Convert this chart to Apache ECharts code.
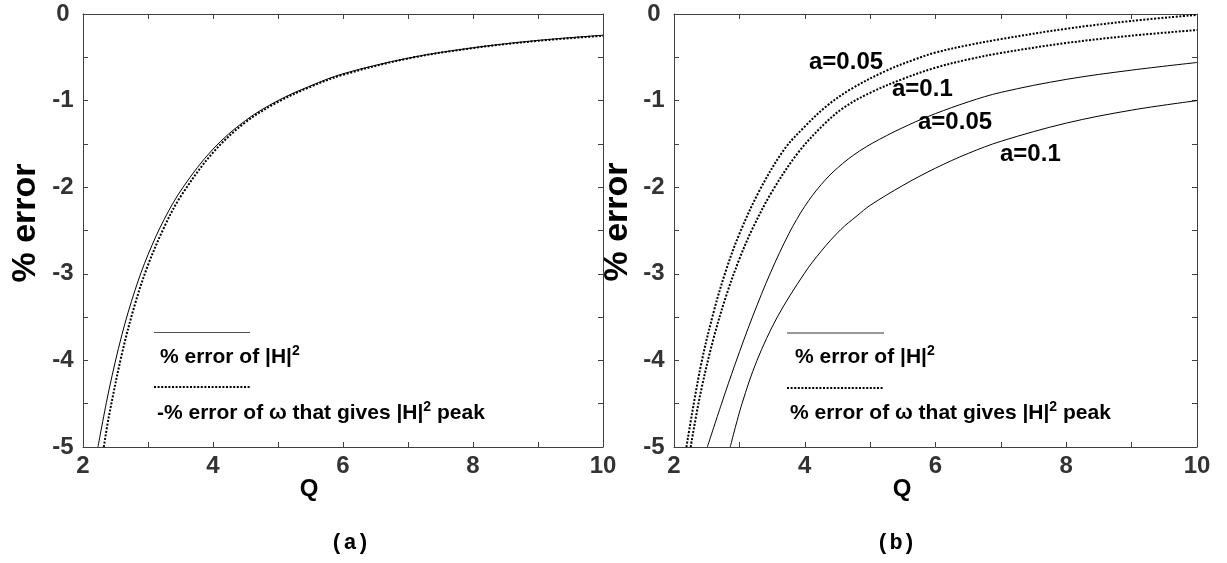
<!DOCTYPE html>
<html>
<head>
<meta charset="utf-8">
<script src="https://cdn.jsdelivr.net/npm/echarts@6/dist/echarts.min.js"></script>
<style>
  html, body { margin: 0; padding: 0; background: #fff; }
  #chart { width: 1227px; height: 563px; }
</style>
</head>
<body>
<div id="chart"></div>
<script>
// ---- Panel (a): percentage error versus Q ----
// % error of |H|^2
const qA_H   = [2.23, 2.4, 2.6, 2.8, 3.0, 3.25, 3.54, 4.0, 4.5, 5.0, 5.5, 6.0, 7.0, 8.0, 9.0, 10.0];
const errA_H = [-5.0, -4.34, -3.70, -3.19, -2.78, -2.37, -2.0, -1.56, -1.23, -1.0, -0.83, -0.69, -0.51, -0.39, -0.305, -0.245];
// -% error of omega that gives the |H|^2 peak
const qA_W   = [2.32, 2.4, 2.6, 2.8, 3.0, 3.25, 3.5, 4.0, 4.5, 5.0, 5.5, 6.0, 7.0, 8.0, 9.0, 10.0];
const errA_W = [-5.0, -4.64, -3.92, -3.35, -2.90, -2.46, -2.11, -1.60, -1.25, -1.016, -0.84, -0.702, -0.514, -0.393, -0.31, -0.251];

// ---- Panel (b): two values of a ----
// % error of |H|^2, a = 0.05
const qB_H05   = [2.51, 2.73, 2.94, 3.2, 3.48, 3.76, 4.0, 4.25, 4.5, 4.84, 5.25, 5.7, 6.0, 6.5, 7.0, 8.0, 9.0, 10.0];
const errB_H05 = [-5.0, -4.494, -4.032, -3.499, -2.981, -2.533, -2.221, -1.971, -1.778, -1.581, -1.405, -1.243, -1.15, -1.015, -0.905, -0.755, -0.648, -0.56];
// % error of |H|^2, a = 0.1
const qB_H10   = [2.86, 3.04, 3.27, 3.58, 3.99, 4.25, 4.55, 4.8, 5.0, 5.5, 6.0, 6.5, 7.0, 8.0, 9.0, 10.0];
const errB_H10 = [-5.0, -4.5, -4.0, -3.5, -3.0, -2.74, -2.49, -2.33, -2.21, -1.98, -1.78, -1.61, -1.47, -1.26, -1.11, -1.0];
// % error of omega, a = 0.05
const qB_W05   = [2.19, 2.4, 2.6, 2.8, 3.0, 3.3, 3.68, 4.0, 4.34, 4.7, 5.26, 5.7, 6.0, 6.5, 7.0, 8.0, 9.0, 10.0];
const errB_W05 = [-5.0, -4.1, -3.46, -2.95, -2.54, -2.05, -1.57, -1.3, -1.06, -0.87, -0.65, -0.52, -0.445, -0.36, -0.29, -0.17, -0.08, -0.01];
// % error of omega, a = 0.1
const qB_W10   = [2.255, 2.4, 2.6, 2.8, 3.0, 3.2, 3.5, 3.9, 4.3, 4.6, 5.0, 5.5, 6.0, 6.5, 7.0, 8.0, 9.0, 10.0];
const errB_W10 = [-5.0, -4.4, -3.76, -3.25, -2.83, -2.48, -2.05, -1.6, -1.27, -1.08, -0.91, -0.75, -0.62, -0.525, -0.45, -0.335, -0.25, -0.185];

// Tick labels shown on the axes
const xTickLabels = [2, 4, 6, 8, 10];
const yTickLabels = [0, -1, -2, -3, -4, -5];

const FONT = 'Liberation Sans, Arial, sans-serif';
const AXIS_COLOR = '#404040';
const LABEL_COLOR = '#333';

const zip = (xs, ys) => xs.map((x, i) => [x, ys[i]]);

function xAxisPair(gridIndex) {
  const base = {
    type: 'value', gridIndex, min: 2, max: 10, interval: 1,
    axisLine: { onZero: false, lineStyle: { color: AXIS_COLOR, width: 1 } },
    axisTick: { inside: true, length: 5, lineStyle: { color: AXIS_COLOR } },
    splitLine: { show: false }
  };
  return [
    Object.assign({}, base, {
      position: 'bottom',
      axisLabel: {
        margin: 7, color: LABEL_COLOR, fontSize: 24, fontWeight: 'bold', fontFamily: FONT,
        formatter: v => (xTickLabels.indexOf(v) >= 0 ? String(v) : '')
      }
    }),
    Object.assign({}, base, { position: 'top', axisLabel: { show: false } })
  ];
}

function yAxisPair(gridIndex) {
  const base = {
    type: 'value', gridIndex, min: -5, max: 0, interval: 0.5,
    axisLine: { show: true, onZero: false, lineStyle: { color: AXIS_COLOR, width: 1 } },
    axisTick: { show: true, inside: true, length: 5, lineStyle: { color: AXIS_COLOR } },
    splitLine: { show: false }
  };
  return [
    Object.assign({}, base, {
      position: 'left',
      axisLabel: {
        margin: 20, align: 'center', color: LABEL_COLOR, fontSize: 24, fontWeight: 'bold', fontFamily: FONT,
        formatter: v => (yTickLabels.indexOf(v) >= 0 ? String(v) : '')
      }
    }),
    Object.assign({}, base, { position: 'right', axisLabel: { show: false } })
  ];
}

const solid = { color: '#000', width: 1, type: 'solid' };
const dotted = { color: '#000', width: 2, type: [2, 1.6] };

function curve(name, xi, yi, xs, ys, style) {
  return {
    name, type: 'line', xAxisIndex: xi, yAxisIndex: yi,
    data: zip(xs, ys), showSymbol: false, smooth: 0.35,
    lineStyle: style, clip: true, silent: true
  };
}

function txt(x, y, text, size, opts) {
  return {
    type: 'text', x, y, silent: true,
    rotation: (opts && opts.rotation) || 0,
    style: Object.assign({
      text, fontSize: size, fontWeight: 'bold', fontFamily: FONT, fill: '#000',
      align: 'left', verticalAlign: 'middle'
    }, (opts && opts.style) || {})
  };
}

function legendText(x, y, head, tail) {
  return {
    type: 'text', x, y, silent: true,
    style: {
      text: '{m|' + head + '}{s|2}{m|' + tail + '}',
      align: 'left', verticalAlign: 'middle',
      rich: {
        m: { fontSize: 21, fontWeight: 'bold', fontFamily: FONT, fill: '#000', verticalAlign: 'bottom', lineHeight: 24 },
        s: { fontSize: 14, fontWeight: 'bold', fontFamily: FONT, fill: '#000', verticalAlign: 'top', lineHeight: 22 }
      }
    }
  };
}

function legendLine(x1, x2, y, style) {
  return {
    type: 'line', silent: true,
    shape: { x1, y1: y, x2, y2: y },
    style: { stroke: style.color, lineWidth: style.width, lineDash: style.lineDash || null }
  };
}

const chart = echarts.init(document.getElementById('chart'), null, { renderer: 'canvas' });

const xa = xAxisPair(0), xb = xAxisPair(1);
const ya = yAxisPair(0), yb = yAxisPair(1);

chart.setOption({
  animation: false,
  backgroundColor: '#fff',
  grid: [
    { left: 83, top: 14, width: 520, height: 433, containLabel: false },
    { left: 674, top: 14, width: 523, height: 433, containLabel: false }
  ],
  xAxis: [xa[0], xa[1], xb[0], xb[1]],
  yAxis: [ya[0], ya[1], yb[0], yb[1]],
  series: [
    curve('% error of |H|^2', 0, 0, qA_H, errA_H, solid),
    curve('-% error of ω', 0, 0, qA_W, errA_W, dotted),
    curve('|H|^2, a=0.05', 2, 2, qB_H05, errB_H05, solid),
    curve('|H|^2, a=0.1', 2, 2, qB_H10, errB_H10, solid),
    curve('ω, a=0.05', 2, 2, qB_W05, errB_W05, dotted),
    curve('ω, a=0.1', 2, 2, qB_W10, errB_W10, dotted)
  ],
  graphic: [
    // axis titles
    txt(26, 223, '% error', 34, { rotation: Math.PI / 2, style: { align: 'center' } }),
    txt(618, 222, '% error', 34, { rotation: Math.PI / 2, style: { align: 'center' } }),
    txt(309, 489, 'Q', 24, { style: { align: 'center' } }),
    txt(902, 489, 'Q', 24, { style: { align: 'center' } }),
    // panel captions
    txt(350, 543, '(a)', 22, { style: { align: 'center', fontWeight: 'bold', fontFamily: 'Liberation Mono, monospace' } }),
    txt(896, 543, '(b)', 22, { style: { align: 'center', fontWeight: 'bold', fontFamily: 'Liberation Mono, monospace' } }),
    // legend, panel (a)
    legendLine(154, 250, 332.5, { color: '#555', width: 1 }),
    legendText(160, 356, '% error of |H|', ''),
    legendLine(154, 250, 387, { color: '#000', width: 2, lineDash: [2, 1.6] }),
    legendText(157, 412, '-% error of ω that gives |H|', ' peak'),
    // legend, panel (b)
    legendLine(787, 884, 333, { color: '#333', width: 1 }),
    legendText(795, 356, '% error of |H|', ''),
    legendLine(787, 884, 388, { color: '#000', width: 2, lineDash: [2, 1.6] }),
    legendText(790, 412, '% error of ω that gives |H|', ' peak'),
    // curve annotations, panel (b)
    txt(809, 62, 'a=0.05', 24),
    txt(892, 89, 'a=0.1', 24),
    txt(918, 122, 'a=0.05', 24),
    txt(1000, 154, 'a=0.1', 24)
  ]
});
</script>
</body>
</html>
